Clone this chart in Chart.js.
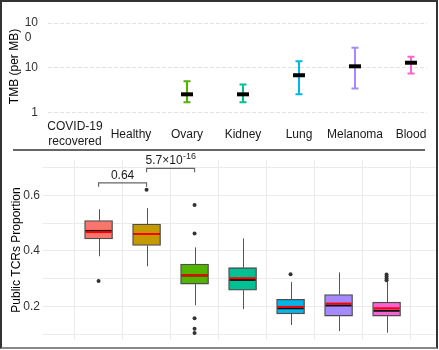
<!DOCTYPE html>
<html>
<head>
<meta charset="utf-8">
<script src="https://cdn.jsdelivr.net/npm/chart.js@4.4.0/dist/chart.umd.min.js"></script>
<style>
body { margin: 0; background: #fff; }
#wrap { position: relative; width: 439px; height: 350px; overflow: hidden; }
#top { position: absolute; left: 0; top: 0; }
#bottom { position: absolute; left: 0; top: 150px; }
#sep { position: absolute; left: 13px; top: 149px; width: 412px; height: 2px; background: #666; }
#frame { position: absolute; left: 0; top: 0; width: 438px; height: 349px; box-sizing: border-box;
  border: 2px solid #333; border-bottom-color: #888; pointer-events: none; }
</style>
</head>
<body>
<div id="wrap">
  <canvas id="top" width="439" height="150"></canvas>
  <canvas id="bottom" width="439" height="200"></canvas>
  <div id="sep"></div>
  <div id="frame"></div>
</div>
<script>
// categories shared by both panels
var categories = ['COVID-19\nrecovered', 'Healthy', 'Ovary', 'Kidney', 'Lung', 'Melanoma', 'Blood'];
var catColors = ['#F8766D', '#C49A00', '#53B400', '#00C094', '#00B6EB', '#A58AFF', '#FB61D7'];

// top panel: TMB (per MB), median with range
var tmbMedian = [null, null, 2.6, 2.6, 6.9, 10.9, 13.1];
var tmbLow    = [null, null, 1.73, 1.73, 2.6, 3.5, 7.5];
var tmbHigh   = [null, null, 5.1, 4.3, 14.1, 28.3, 17.8];
var tmbTicks  = [1, 10, 100];

// bottom panel: public TCRs proportion box plots
var boxQ1       = [0.443, 0.420, 0.281, 0.259, 0.174, 0.166, 0.166];
var boxQ3       = [0.509, 0.497, 0.353, 0.340, 0.226, 0.243, 0.216];
var boxMedian   = [0.472, 0.461, 0.312, 0.296, 0.194, 0.204, 0.185];
var boxMean     = [0.468, 0.461, 0.312, 0.302, 0.199, 0.211, 0.194];
var whiskerLow  = [0.381, 0.345, 0.205, 0.191, 0.134, 0.112, 0.106];
var whiskerHigh = [0.550, 0.554, 0.413, 0.445, 0.288, 0.323, 0.290];
var outliers = [
  [0.292],
  [0.620],
  [0.565, 0.463, 0.158, 0.120, 0.105],
  [],
  [0.316],
  [],
  [0.315, 0.308, 0.301, 0.295]
];
var propTicks = [0.1, 0.2, 0.3, 0.4, 0.5, 0.6, 0.7];
var propLabelled = [0.2, 0.4, 0.6];

// significance brackets
var compFrom = [0, 1];
var compTo   = [1, 2];
var compY    = [0.645, 0.697];
var compText = ['0.64', '5.7\u00d710'];
var compExp  = ['', '-16'];

Chart.defaults.font.family = "'Liberation Sans', Arial, sans-serif";
Chart.defaults.font.size = 12;
Chart.defaults.animation = false;

var xIdx = categories.map(function(c, i) { return i; });
function categoryTicks(scale) {
  scale.ticks = xIdx.map(function(i) { return { value: i }; });
}

var errorBars = {
  id: 'errorBars',
  beforeDatasetsDraw: function(chart) {
    var ctx = chart.ctx, x = chart.scales.x, y = chart.scales.y;
    ctx.save();
    ctx.lineWidth = 2;
    for (var i = 0; i < categories.length; i++) {
      if (tmbMedian[i] == null) continue;
      var px = x.getPixelForValue(i);
      var lo = y.getPixelForValue(tmbLow[i]);
      var hi = y.getPixelForValue(tmbHigh[i]);
      ctx.strokeStyle = catColors[i];
      ctx.beginPath();
      ctx.moveTo(px, lo); ctx.lineTo(px, hi);
      ctx.moveTo(px - 3.5, lo); ctx.lineTo(px + 3.5, lo);
      ctx.moveTo(px - 3.5, hi); ctx.lineTo(px + 3.5, hi);
      ctx.stroke();
    }
    ctx.restore();
  }
};

var tmbPoints = [];
xIdx.forEach(function(i) {
  if (tmbMedian[i] != null) tmbPoints.push({ x: i, y: tmbMedian[i] });
});

new Chart(document.getElementById('top'), {
  type: 'scatter',
  data: {
    datasets: [{
      data: tmbPoints,
      pointStyle: 'line',
      radius: 6,
      hoverRadius: 6,
      borderWidth: 4,
      borderColor: '#000'
    }]
  },
  options: {
    responsive: false,
    animation: false,
    layout: { padding: { top: 15, right: 12, left: 0, bottom: 0 } },
    plugins: { legend: { display: false }, tooltip: { enabled: false } },
    scales: {
      x: {
        type: 'linear',
        min: -0.482,
        max: 6.286,
        afterBuildTicks: categoryTicks,
        afterFit: function(s) { s.height = 32; s.paddingLeft = 0; s.paddingRight = 0; },
        grid: { display: false },
        border: { display: false },
        ticks: {
          autoSkip: false,
          maxRotation: 0,
          crossAlign: 'center',
          padding: 1,
          color: '#1a1a1a',
          callback: function(v) { return categories[v].split('\n'); }
        }
      },
      y: {
        type: 'logarithmic',
        min: 0.774,
        max: 150.6,
        afterBuildTicks: function(s) { s.ticks = tmbTicks.map(function(v) { return { value: v }; }); },
        afterFit: function(s) { s.width = 48; s.paddingTop = 0; s.paddingBottom = 0; },
        grid: { color: '#e2e2e2', drawTicks: false },
        border: { display: false, dash: [4, 2] },
        ticks: {
          autoSkip: false,
          padding: 10,
          color: '#333',
          callback: function(v) { return v === 100 ? ['', '10', '0  '] : String(v); }
        },
        title: { display: true, text: 'TMB (per MB)', color: '#000', padding: { top: 7, bottom: 0 } }
      }
    }
  },
  plugins: [errorBars]
});

var boxExtras = {
  id: 'boxExtras',
  beforeDatasetsDraw: function(chart) {
    var ctx = chart.ctx, x = chart.scales.x, y = chart.scales.y;
    ctx.save();
    ctx.strokeStyle = '#555';
    ctx.lineWidth = 1;
    for (var i = 0; i < categories.length; i++) {
      var px = Math.round(x.getPixelForValue(i)) + 0.5;
      ctx.beginPath();
      ctx.moveTo(px, y.getPixelForValue(whiskerHigh[i]));
      ctx.lineTo(px, y.getPixelForValue(boxQ3[i]));
      ctx.moveTo(px, y.getPixelForValue(boxQ1[i]));
      ctx.lineTo(px, y.getPixelForValue(whiskerLow[i]));
      ctx.stroke();
    }
    ctx.restore();
  },
  afterDatasetsDraw: function(chart) {
    var ctx = chart.ctx, x = chart.scales.x, y = chart.scales.y;
    var bars = chart.getDatasetMeta(0).data;
    ctx.save();
    ctx.lineWidth = 2;
    for (var i = 0; i < categories.length; i++) {
      var px = x.getPixelForValue(i);
      var hw = bars[i].width / 2 - 1;
      var ym = y.getPixelForValue(boxMedian[i]);
      ctx.strokeStyle = '#111';
      ctx.beginPath(); ctx.moveTo(px - hw, ym); ctx.lineTo(px + hw, ym); ctx.stroke();
      var ya = y.getPixelForValue(boxMean[i]);
      ctx.strokeStyle = '#FF0000';
      ctx.beginPath(); ctx.moveTo(px - hw, ya); ctx.lineTo(px + hw, ya); ctx.stroke();
    }

    // brackets with p values
    var leg = 0.014;
    ctx.strokeStyle = '#666';
    ctx.lineWidth = 1.2;
    ctx.fillStyle = '#1a1a1a';
    ctx.textBaseline = 'alphabetic';
    ctx.textAlign = 'left';
    for (var k = 0; k < compFrom.length; k++) {
      var x1 = x.getPixelForValue(compFrom[k]);
      var x2 = x.getPixelForValue(compTo[k]);
      var yb = y.getPixelForValue(compY[k]);
      var yl = y.getPixelForValue(compY[k] - leg);
      ctx.beginPath();
      ctx.moveTo(x1, yl); ctx.lineTo(x1, yb); ctx.lineTo(x2, yb); ctx.lineTo(x2, yl);
      ctx.stroke();
      ctx.font = "12px 'Liberation Sans', Arial, sans-serif";
      var w1 = ctx.measureText(compText[k]).width;
      ctx.font = "9px 'Liberation Sans', Arial, sans-serif";
      var w2 = compExp[k] ? ctx.measureText(compExp[k]).width : 0;
      var sx = (x1 + x2) / 2 - (w1 + w2) / 2;
      ctx.font = "12px 'Liberation Sans', Arial, sans-serif";
      ctx.fillText(compText[k], sx, yb - 4);
      if (compExp[k]) {
        ctx.font = "9px 'Liberation Sans', Arial, sans-serif";
        ctx.fillText(compExp[k], sx + w1 + 0.5, yb - 9);
      }
    }
    ctx.restore();
  }
};

var outlierPoints = [];
outliers.forEach(function(list, i) {
  list.forEach(function(v) { outlierPoints.push({ x: i, y: v }); });
});

new Chart(document.getElementById('bottom'), {
  type: 'bar',
  data: {
    datasets: [{
      type: 'bar',
      data: xIdx.map(function(i) { return { x: i, y: [boxQ1[i], boxQ3[i]] }; }),
      backgroundColor: catColors,
      borderColor: '#4d4d4d',
      borderWidth: 1.3,
      borderSkipped: false,
      barThickness: 28
    }, {
      type: 'scatter',
      data: outlierPoints,
      pointRadius: 2,
      hoverRadius: 2,
      backgroundColor: '#333',
      borderWidth: 0
    }]
  },
  options: {
    responsive: false,
    animation: false,
    layout: { padding: { top: 9, right: 2, left: 0, bottom: 7 } },
    plugins: { legend: { display: false }, tooltip: { enabled: false } },
    scales: {
      x: {
        type: 'linear',
        min: -0.5714,
        max: 6.4643,
        afterBuildTicks: categoryTicks,
        afterFit: function(s) { s.height = 0; },
        grid: { color: '#ebebeb', drawTicks: false },
        border: { display: false },
        ticks: { display: false }
      },
      y: {
        min: 0.0807,
        max: 0.7263,
        afterBuildTicks: function(s) { s.ticks = propTicks.map(function(v) { return { value: v }; }); },
        afterFit: function(s) { s.width = 43; },
        grid: { color: '#ebebeb', drawTicks: false },
        border: { display: false },
        ticks: {
          autoSkip: false,
          padding: 3,
          color: '#333',
          callback: function(v) {
            for (var j = 0; j < propLabelled.length; j++) {
              if (Math.abs(v - propLabelled[j]) < 1e-6) return v.toFixed(1);
            }
            return '';
          }
        },
        title: { display: true, text: 'Public TCRs Proportion', color: '#000', padding: { top: 9, bottom: 0 } }
      }
    }
  },
  plugins: [boxExtras]
});
</script>
</body>
</html>
